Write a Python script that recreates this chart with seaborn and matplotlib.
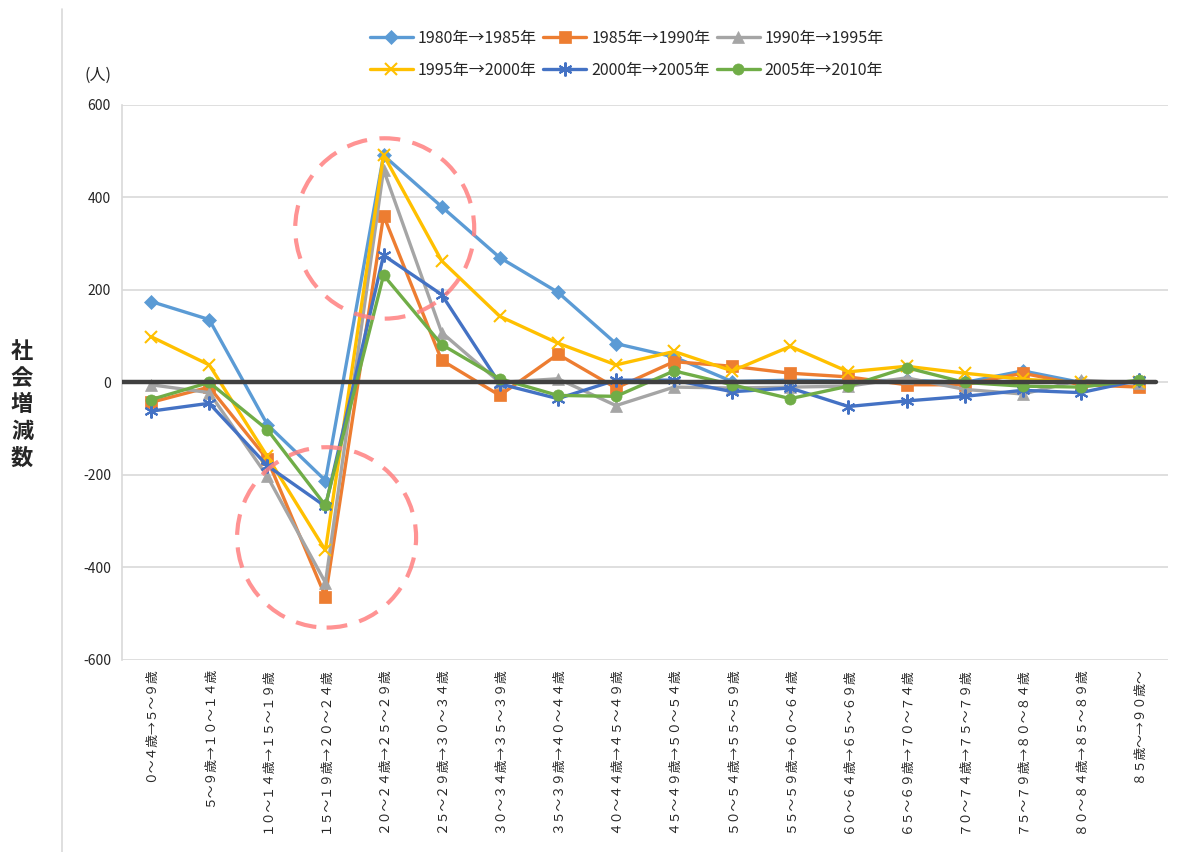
import numpy as np
import seaborn as sns
import matplotlib.pyplot as plt
from matplotlib.patches import Ellipse
from matplotlib.lines import Line2D

# age cohort transitions (x axis)
age_labels = [
    "０～４歳→５～９歳", "５～９歳→１０～１４歳", "１０～１４歳→１５～１９歳",
    "１５～１９歳→２０～２４歳", "２０～２４歳→２５～２９歳", "２５～２９歳→３０～３４歳",
    "３０～３４歳→３５～３９歳", "３５～３９歳→４０～４４歳", "４０～４４歳→４５～４９歳",
    "４５～４９歳→５０～５４歳", "５０～５４歳→５５～５９歳", "５５～５９歳→６０～６４歳",
    "６０～６４歳→６５～６９歳", "６５～６９歳→７０～７４歳", "７０～７４歳→７５～７９歳",
    "７５～７９歳→８０～８４歳", "８０～８４歳→８５～８９歳", "８５歳～→９０歳～",
]

# social increase/decrease per period
v1980_1985 = [175, 136, -91, -212, 491, 380, 270, 195, 84, 55, 2, 5, 3, 5, 0, 25, 0, 0]
v1985_1990 = [-43, -10, -166, -463, 361, 48, -28, 61, -12, 45, 35, 20, 12, -5, -5, 20, -5, -10]
v1990_1995 = [-5, -22, -203, -433, 460, 108, 0, 8, -50, -10, -12, -10, -8, 10, -15, -25, 5, -2]
v1995_2000 = [99, 38, -160, -363, 492, 263, 143, 85, 38, 67, 25, 78, 23, 35, 20, 7, 0, 2]
v2000_2005 = [-62, -45, -180, -268, 275, 190, -3, -35, 5, 5, -20, -12, -52, -40, -30, -17, -22, 5]
v2005_2010 = [-37, 0, -102, -266, 232, 82, 8, -28, -30, 25, -5, -35, -8, 32, 0, -8, -10, 5]

periods = ["1980年→1985年", "1985年→1990年", "1990年→1995年",
           "1995年→2000年", "2000年→2005年", "2005年→2010年"]
series = [v1980_1985, v1985_1990, v1990_1995, v1995_2000, v2000_2005, v2005_2010]
colors = ["#5B9BD5", "#ED7D31", "#A5A5A5", "#FFC000", "#4472C4", "#70AD47"]
markers = ["D", "s", "^", "x", (6, 2, 0), "o"]
msizes = [7, 8, 8, 9, 10, 8]

sns.set_style("white")
plt.rcParams["font.family"] = ["Noto Sans CJK JP", "DejaVu Sans"]
plt.rcParams["axes.unicode_minus"] = False

fig = plt.figure(figsize=(11.85, 8.52), dpi=100)
ax = fig.add_axes([0.103, 0.2254, 0.8827, 0.6514])

pos = np.arange(len(age_labels))
for name, vals, c, m, ms in zip(periods, series, colors, markers, msizes):
    sns.lineplot(x=pos, y=vals, color=c, marker=m, markersize=ms, linewidth=2.4,
                 markeredgecolor=c, markeredgewidth=1.5 if m in ("x", (6, 2, 0)) else 0.5,
                 label=name, ax=ax, legend=False)

ax.axhline(0, xmin=0, xmax=0.988, color="#404040", lw=3.2, zorder=5)

ax.set_xlim(-0.5, len(age_labels) - 0.5)
ax.set_ylim(-600, 600)
ax.set_yticks(range(-600, 601, 200))
ax.yaxis.grid(True, color="#D9D9D9", lw=1.2)
ax.set_axisbelow(True)
ax.set_xticks(pos)
ax.set_xticklabels(age_labels, rotation=90, va="top", fontsize=9.2)
ax.tick_params(axis="x", length=0, pad=5)
ax.tick_params(axis="y", length=0, labelsize=10, pad=8)
for s in ["top", "right", "bottom"]:
    ax.spines[s].set_visible(False)
ax.spines["left"].set_color("#D9D9D9")
ax.spines["left"].set_linewidth(1.2)
ax.set_xlabel("")
ax.set_ylabel("")

# highlight circles
ax.add_patch(Ellipse((4.02, 333), 3.08, 390, fill=False, ec="#FF8080", lw=3,
                     ls=(0, (5, 3)), alpha=0.85, zorder=6))
ax.add_patch(Ellipse((3.02, -335), 3.08, 390, fill=False, ec="#FF8080", lw=3,
                     ls=(0, (5, 3)), alpha=0.85, zorder=6))

# legend in 2 rows of 3
h, l = ax.get_legend_handles_labels()
order = [0, 3, 1, 4, 2, 5]
fig.legend([h[i] for i in order], [l[i] for i in order], ncol=3, loc="upper center",
           bbox_to_anchor=(0.529, 0.982), frameon=False, fontsize=11.5,
           handlelength=2.7, columnspacing=0.4, handletextpad=0.3, labelspacing=0.95)

fig.text(98 / 1185, 1 - 75 / 852, "(人)", fontsize=11.5, ha="center", va="center")
fig.text(22 / 1185, 1 - 405 / 852, "社\n会\n増\n減\n数", fontsize=16, fontweight="bold",
         ha="center", va="center", linespacing=1.2)
fig.add_artist(Line2D([62 / 1185, 62 / 1185], [0, 0.99], color="#D9D9D9", lw=1.2))

fig.savefig("out.png", dpi=100)
